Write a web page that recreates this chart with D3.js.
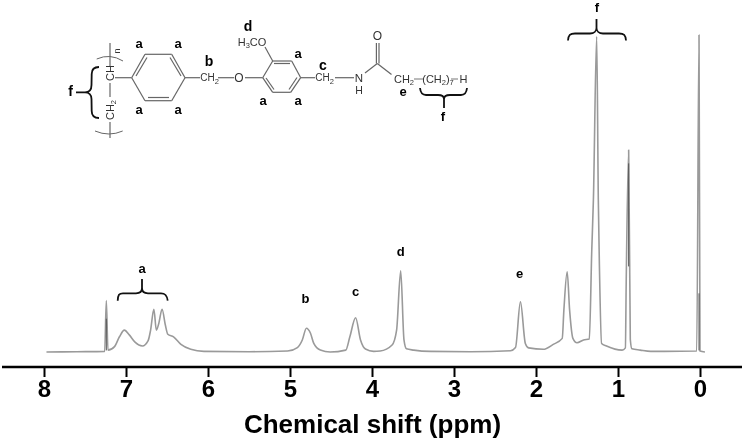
<!DOCTYPE html>
<html>
<head>
<meta charset="utf-8">
<script src="https://cdn.jsdelivr.net/npm/d3@7"></script>
<style>
  html, body { margin: 0; padding: 0; background: #fff; }
  svg { display: block; filter: blur(0.35px); }
  text { font-family: "Liberation Sans", Arial, sans-serif; }
</style>
</head>
<body>
<div id="chart"></div>
<script>
// spectrum: shift in ppm, intensity as % of the tallest peak
const shifts = [
  7.97, 7.6, 7.26, 7.24, 7.22, 7.14, 7.08, 7.02, 6.96, 6.89, 6.80, 6.73, 6.70, 6.66, 6.63, 6.60, 6.56, 6.52, 6.49, 6.42, 6.33, 6.21, 6.05,
  5.5, 5.03, 4.91, 4.85, 4.80, 4.75, 4.71, 4.63, 4.51, 4.32, 4.27, 4.20, 4.14, 4.08, 3.98, 3.90, 3.755, 3.70, 3.65, 3.61, 3.58, 3.49, 3.29,
  2.8, 2.31, 2.25, 2.19, 2.13, 2.09, 1.91, 1.79, 1.68, 1.66, 1.62, 1.59, 1.55, 1.50, 1.42, 1.35, 1.32, 1.30, 1.26, 1.24, 1.23, 1.20, 1.14, 0.95, 0.91,
  0.90, 0.87, 0.85, 0.83, 0.73, 0.6, 0.04, 0.012, 0.0, -0.06
]
const intensity = [
  0, 0.1, 0.2, 16.2, 0.6, 1.7, 4.8, 6.9, 5.4, 3.1, 1.9, 3.6, 6.9, 13.5, 6.9, 9.0, 13.5, 8.5, 5.6, 4.8, 2.4, 0.85, 0.2,
  0.1, 0.3, 1.4, 3.8, 7.5, 5.9, 2.7, 0.6, 0, 0.6, 4.8, 10.8, 3.8, 0.95, 0.2, 0.3, 2.2, 6.9, 25.6, 3.8, 1.0, 0.6, 0.2,
  0.1, 0.4, 1.4, 15.8, 2.7, 1.3, 0.85, 2.4, 4.3, 13.2, 25.3, 13.2, 4.3, 2.9, 3.8, 4.1, 32, 48, 99.5, 48, 32, 2.7, 1.9, 0.6, 1.3,
  21.8, 63.7, 4, 1.0, 0.6, 0.2, 0.3, 100, 0.3, 0
]
// darker core of the sharp peaks: shift, top of the dark part, bottom of it
const coreShifts = [7.24, 0.87, 0.012]
const coreTops = [10.5, 59.5, 18.5]
const coreBottoms = [0.5, 27, 0.5]

const xTicks = [8, 7, 6, 5, 4, 3, 2, 1, 0]

const peakNames = ['b', 'c', 'd', 'e']
const peakShifts = [4.81, 4.20, 3.65, 2.20]
const peakLabelHeights = [16.8, 18.9, 31.5, 24.5]

const width = 745
const height = 442
const baseY = 352

const x = d3.scaleLinear().domain([8, 0]).range([44, 700])
const y = d3.scaleLinear().domain([0, 100]).range([baseY, 35])

const svg = d3.select('#chart').append('svg')
  .attr('width', width)
  .attr('height', height)

// spectrum
const line = d3.line()
  .x(d => x(d[0]))
  .y(d => y(d[1]))
  .curve(d3.curveMonotoneX)

svg.append('path')
  .datum(d3.zip(shifts, intensity))
  .attr('d', line)
  .attr('fill', 'none')
  .attr('stroke', '#9a9a9a')
  .attr('stroke-width', 1.6)
  .attr('stroke-linejoin', 'round')

svg.append('g')
  .selectAll('line')
  .data(coreShifts)
  .join('line')
  .attr('x1', d => x(d))
  .attr('x2', d => x(d))
  .attr('y1', (d, i) => y(coreTops[i]))
  .attr('y2', (d, i) => y(coreBottoms[i]))
  .attr('stroke', '#555')
  .attr('stroke-width', 1)

// x axis
const axis = d3.axisBottom(x)
  .tickValues(xTicks)
  .tickFormat(d3.format('d'))
  .tickSize(10)
  .tickPadding(3)

const axisG = svg.append('g')
  .attr('transform', 'translate(0,367)')
  .call(axis)

axisG.select('.domain').remove()
axisG.append('line')
  .attr('x1', 2)
  .attr('x2', 742)
  .attr('stroke', '#000')
  .attr('stroke-width', 2.4)
axisG.selectAll('.tick line').attr('stroke', '#000').attr('stroke-width', 2)
axisG.selectAll('.tick text')
  .attr('fill', '#000')
  .style('font-size', '24px')
  .style('font-weight', 'bold')

svg.append('text')
  .attr('x', 372.5)
  .attr('y', 433)
  .attr('text-anchor', 'middle')
  .style('font-size', '26px')
  .style('font-weight', 'bold')
  .text('Chemical shift (ppm)')

// peak letters
const boldLabel = (px, py, s, size) => svg.append('text')
  .attr('x', px)
  .attr('y', py)
  .attr('text-anchor', 'middle')
  .attr('dy', '0.3em')
  .style('font-size', (size || 13) + 'px')
  .style('font-weight', 'bold')
  .text(s)

peakNames.forEach((s, i) => {
  boldLabel(x(peakShifts[i]), y(peakLabelHeights[i]), s)
})

// curly braces
const braces = [
  'M117.7,300.7C118,295 119,293.3 123,293.3L136,293.3C140,293.3 142,291 142,288C142,291 144,293.3 148,293.3L161,293.3C165,293.3 167,295 167.7,300.7M142,289L142,279',
  'M568,40.5C568.5,35 570,33.5 575,33.5L590,33.5C594,33.5 596.5,31 596.5,28C596.5,31 599,33.5 603,33.5L619,33.5C624,33.5 625.5,35 626,40.5M596.5,29L596.5,19',
  'M99,67C94,67 91.7,69 91.7,74L91.5,85C91.5,90 89,92.3 85,92.3C89,92.3 91.5,95 91.5,99L91.7,111C91.7,116 94,118 99,118M85,92.3L76,92.3',
  'M420,88C420.5,93 422,95 426,95L438,95C442,95 444,97 444,99C444,97 446,95 450,95L461,95C465,95 466.5,93 467,88M444,98L444,108'
]
svg.append('g')
  .selectAll('path')
  .data(braces)
  .join('path')
  .attr('d', d => d)
  .attr('fill', 'none')
  .attr('stroke', '#111')
  .attr('stroke-width', 1.8)

boldLabel(142, 269, 'a')
boldLabel(597, 8, 'f')
boldLabel(70.7, 92, 'f', 14)
boldLabel(443, 117, 'f', 13)

// structure drawing
const bonds = [
  // first ring
  [131.7, 77.7, 145, 54.3], [145, 54.3, 171.7, 54.3], [171.7, 54.3, 185, 77.7],
  [185, 77.7, 171.7, 100.7], [171.7, 100.7, 145, 100.7], [145, 100.7, 131.7, 77.7],
  [136, 76, 147, 57.5], [170, 57.5, 181, 76], [148, 97.5, 169, 97.5],
  // second ring
  [262.7, 77.7, 272.7, 61], [272.7, 61, 291.7, 61], [291.7, 61, 300.7, 77.7],
  [300.7, 77.7, 290.7, 92.3], [290.7, 92.3, 272.7, 92.3], [272.7, 92.3, 262.7, 77.7],
  [274, 63.5, 290, 63.5], [297, 77.5, 289, 89.5], [266, 78, 274, 89.5],
  // links
  [185, 77.7, 200, 77.7], [218, 77.7, 234, 77.7], [245, 77.7, 262.7, 77.7],
  [272.7, 61, 265, 47], [300.7, 77.7, 315, 77.7], [335, 77.7, 354, 77.7],
  [365, 73, 377.3, 63.5], [376.4, 63.5, 376.4, 43], [379, 63.5, 379, 43], [377.3, 63.5, 391.5, 74.5],
  [115, 77.7, 131.7, 77.7], [110, 43, 110, 66], [110, 83, 110, 97], [110, 122, 110, 138]
]
svg.append('g')
  .selectAll('line')
  .data(bonds)
  .join('line')
  .attr('x1', d => d[0])
  .attr('y1', d => d[1])
  .attr('x2', d => d[2])
  .attr('y2', d => d[3])
  .attr('stroke', '#666')
  .attr('stroke-width', 1.2)

// polymer backbone brackets
svg.append('path')
  .attr('d', 'M96.7,59Q110,53 123,61M95,131Q109,137 122.7,131')
  .attr('fill', 'none')
  .attr('stroke', '#666')
  .attr('stroke-width', 1)

// atoms, with subscripts as small tspans
const atom = (px, py, parts, size, rotate) => {
  const t = svg.append('text')
    .attr('text-anchor', 'middle')
    .attr('fill', '#333')
    .style('font-size', (size || 11) + 'px')
    .attr('transform', `translate(${px},${py})` + (rotate ? ` rotate(${rotate})` : ''))
  parts.forEach((p, i) => {
    const sub = p.startsWith('_')
    t.append('tspan')
      .attr('dy', i === 0 ? (size || 11) * 0.35 : (sub ? 2.5 : -2.5))
      .style('font-size', sub ? '7.5px' : null)
      .text(sub ? p.slice(1) : p)
  })
}

atom(209.5, 77.5, ['CH', '_2'], 10)
atom(239, 78, ['O'], 12)
atom(252, 42, ['H', '_3', 'CO'], 11)
atom(324.5, 77.5, ['CH', '_2'], 10)
atom(359, 78, ['N'], 11.5)
atom(359, 90, ['H'], 10.5)
atom(377.5, 36, ['O'], 12)
atom(404, 79, ['CH', '_2'], 11)
atom(438, 79, ['(CH', '_2', ')', '_7'], 11)
atom(463.5, 79, ['H'], 11)
atom(110, 73, ['CH'], 11, -90)
atom(110, 110, ['CH', '_2'], 11, -90)
atom(117, 51, ['n'], 9, -90)

// bonds around the repeat unit on the right
svg.append('path')
  .attr('d', 'M414,79L423,79M451,79L458,79')
  .attr('fill', 'none')
  .attr('stroke', '#666')
  .attr('stroke-width', 0.9)

// proton letters on the structure
const ringLabelX = [139, 178, 139, 178, 298, 263, 298]
const ringLabelY = [44, 44, 110, 110, 54, 101, 101]
ringLabelX.forEach((px, i) => boldLabel(px, ringLabelY[i], 'a', 13))
boldLabel(209, 62, 'b', 14)
boldLabel(323, 66, 'c', 14)
boldLabel(248, 27, 'd', 14)
boldLabel(403, 92, 'e', 13)
</script>
</body>
</html>
